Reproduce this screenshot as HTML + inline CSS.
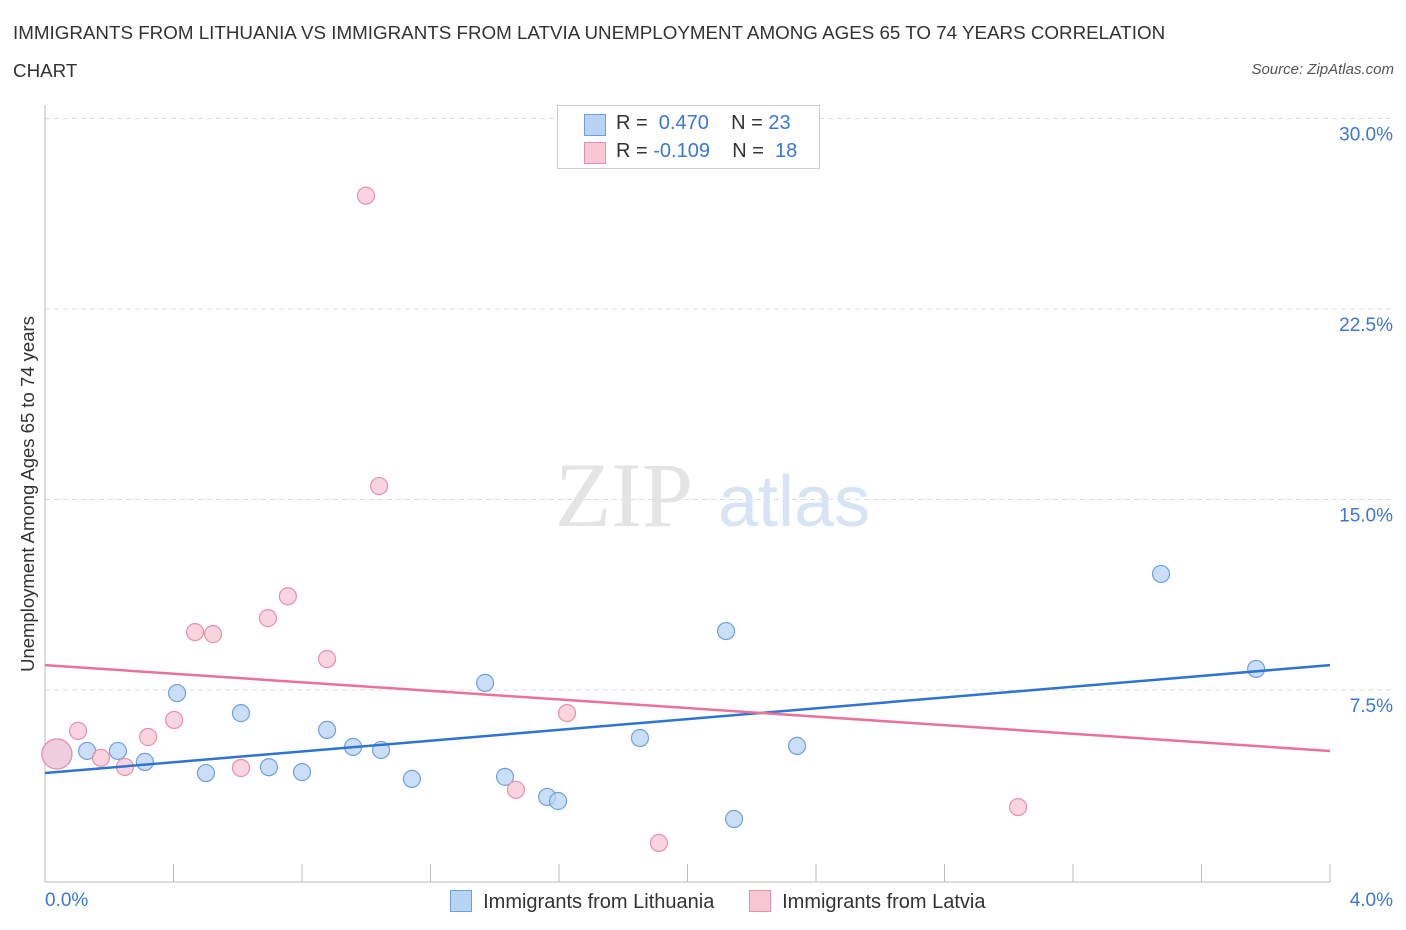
<!DOCTYPE html>
<html><head><meta charset="utf-8">
<style>
body{margin:0;background:#fff;font-family:"Liberation Sans",sans-serif;}
#wrap{position:relative;width:1406px;height:930px;overflow:hidden;}
.t{position:absolute;white-space:nowrap;}
</style></head>
<body>
<div id="wrap">
<div class="t" style="left:13px;top:14px;font-size:18.8px;color:#333;line-height:38px;">IMMIGRANTS FROM LITHUANIA VS IMMIGRANTS FROM LATVIA UNEMPLOYMENT AMONG AGES 65 TO 74 YEARS CORRELATION<br>CHART</div>
<div class="t" style="right:12px;top:61px;font-size:15px;color:#555;font-style:italic;">Source: ZipAtlas.com</div>
<svg id="svg" width="1406" height="930" style="position:absolute;left:0;top:0"></svg>
</div>
<script>
const xBlue=[0.037,0.131,0.227,0.311,0.411,0.501,0.610,0.697,0.800,0.878,0.959,1.046,1.142,1.370,1.432,1.563,1.597,1.852,2.120,2.145,2.341,3.474,3.770];
const yBlue=[4.98,5.10,5.10,4.67,7.38,4.23,6.59,4.46,4.27,5.93,5.26,5.14,4.00,7.78,4.08,3.29,3.13,5.61,9.82,2.42,5.30,12.07,8.33];
const xPink=[0.037,0.103,0.174,0.249,0.321,0.402,0.467,0.523,0.610,0.694,0.756,0.878,0.999,1.040,1.466,1.625,1.911,3.029];
const yPink=[4.98,5.89,4.83,4.47,5.65,6.32,9.78,9.70,4.43,10.33,11.19,8.72,26.96,15.53,3.57,6.59,1.48,2.89];
const trendBlue=[4.23,8.48];
const trendPink=[8.48,5.10];
const yTicks=[7.5,15.0,22.5,30.0];
const NS="http://www.w3.org/2000/svg";
const svg=document.getElementById('svg');
const X=v=>45+v/4*1285;
const Y=v=>880.5-v*25.4;
function mk(tag,attrs){const e=document.createElementNS(NS,tag);for(const k in attrs)e.setAttribute(k,attrs[k]);svg.appendChild(e);return e;}
yTicks.forEach(t=>{
  const g=mk('line',{x1:45,x2:1395,y1:Y(t),y2:Y(t),stroke:'#dcdcdc','stroke-dasharray':'5,4'});
  
  
  const l=mk('text',{x:1393,y:Y(t)+22,'text-anchor':'end','font-size':19,fill:'#3a78d4','font-family':'Liberation Sans, sans-serif'});
  l.textContent=t.toFixed(1)+'%';
  
  
});
let a=mk('line',{x1:45,x2:45,y1:105,y2:882,stroke:'#bbb'});


a=mk('line',{x1:45,x2:1330,y1:882,y2:882,stroke:'#bbb'});


for(let i=0;i<=10;i++){const tk=mk('line',{x1:X(i*0.4),x2:X(i*0.4),y1:864,y2:882,stroke:'#bbb'});

}
let w=mk('text',{x:555,y:526,'font-size':92,fill:'#e4e4e4','font-family':'Liberation Serif, serif'});w.textContent='ZIP';


w=mk('text',{x:718,y:526,'font-size':72,fill:'#d6e4f5','font-family':'Liberation Sans, sans-serif'});w.textContent='atlas';


function pts(xs,ys,fill,stroke,name){xs.forEach((x,i)=>{const r=i===0?15:8.5;const c=mk('circle',{cx:X(x),cy:Y(ys[i]),r:r,fill:fill,stroke:stroke,'stroke-width':1.2,'fill-opacity':0.75});

});}
pts(xBlue,yBlue,'#b8d4f4','#6fa0dc','point-lithuania');
pts(xPink,yPink,'#f8c7d6','#e890ac','point-latvia');
let tl=mk('line',{x1:X(0),y1:Y(trendBlue[0]),x2:X(4),y2:Y(trendBlue[1]),stroke:'#2f74d0','stroke-width':2.5});


tl=mk('line',{x1:X(0),y1:Y(trendPink[0]),x2:X(4),y2:Y(trendPink[1]),stroke:'#e8729a','stroke-width':2.5});


</script>
<div class="t" style="left:45px;top:890px;font-size:19px;color:#3a78d4;">0.0%</div>
<div class="t" style="right:13px;top:890px;font-size:19px;color:#3a78d4;">4.0%</div>
<div class="t" style="left:28px;top:494px;font-size:18.5px;color:#333;transform:translate(-50%,-50%) rotate(-90deg);">Unemployment Among Ages 65 to 74 years</div>
<div style="position:absolute;left:557px;top:105px;width:261px;height:62px;border:1px solid #ccc;background:#fff;font-size:20px;color:#333;">
 <div style="position:absolute;left:26px;top:8px;width:20px;height:20px;background:#b8d4f4;border:1px solid #6fa0dc;"></div>
 <div class="t" style="left:58px;top:6px;">R = <span style="color:#3a78d4">&nbsp;0.470</span>&nbsp;&nbsp;&nbsp;&nbsp;N = <span style="color:#3a78d4">23</span></div>
 <div style="position:absolute;left:26px;top:36px;width:20px;height:20px;background:#f8c7d6;border:1px solid #e890ac;"></div>
 <div class="t" style="left:58px;top:34px;">R = <span style="color:#3a78d4">-0.109</span>&nbsp;&nbsp;&nbsp;&nbsp;N = <span style="color:#3a78d4">&nbsp;18</span></div>
</div>
<div style="position:absolute;left:450px;top:890px;font-size:20px;color:#333;">
 <span style="display:inline-block;width:20px;height:20px;background:#b8d4f4;border:1px solid #6fa0dc;vertical-align:-4px;"></span>&nbsp; Immigrants from Lithuania</div>
<div style="position:absolute;left:749px;top:890px;font-size:20px;color:#333;">
 <span style="display:inline-block;width:20px;height:20px;background:#f8c7d6;border:1px solid #e890ac;vertical-align:-4px;"></span>&nbsp; Immigrants from Latvia</div>
</body></html>
